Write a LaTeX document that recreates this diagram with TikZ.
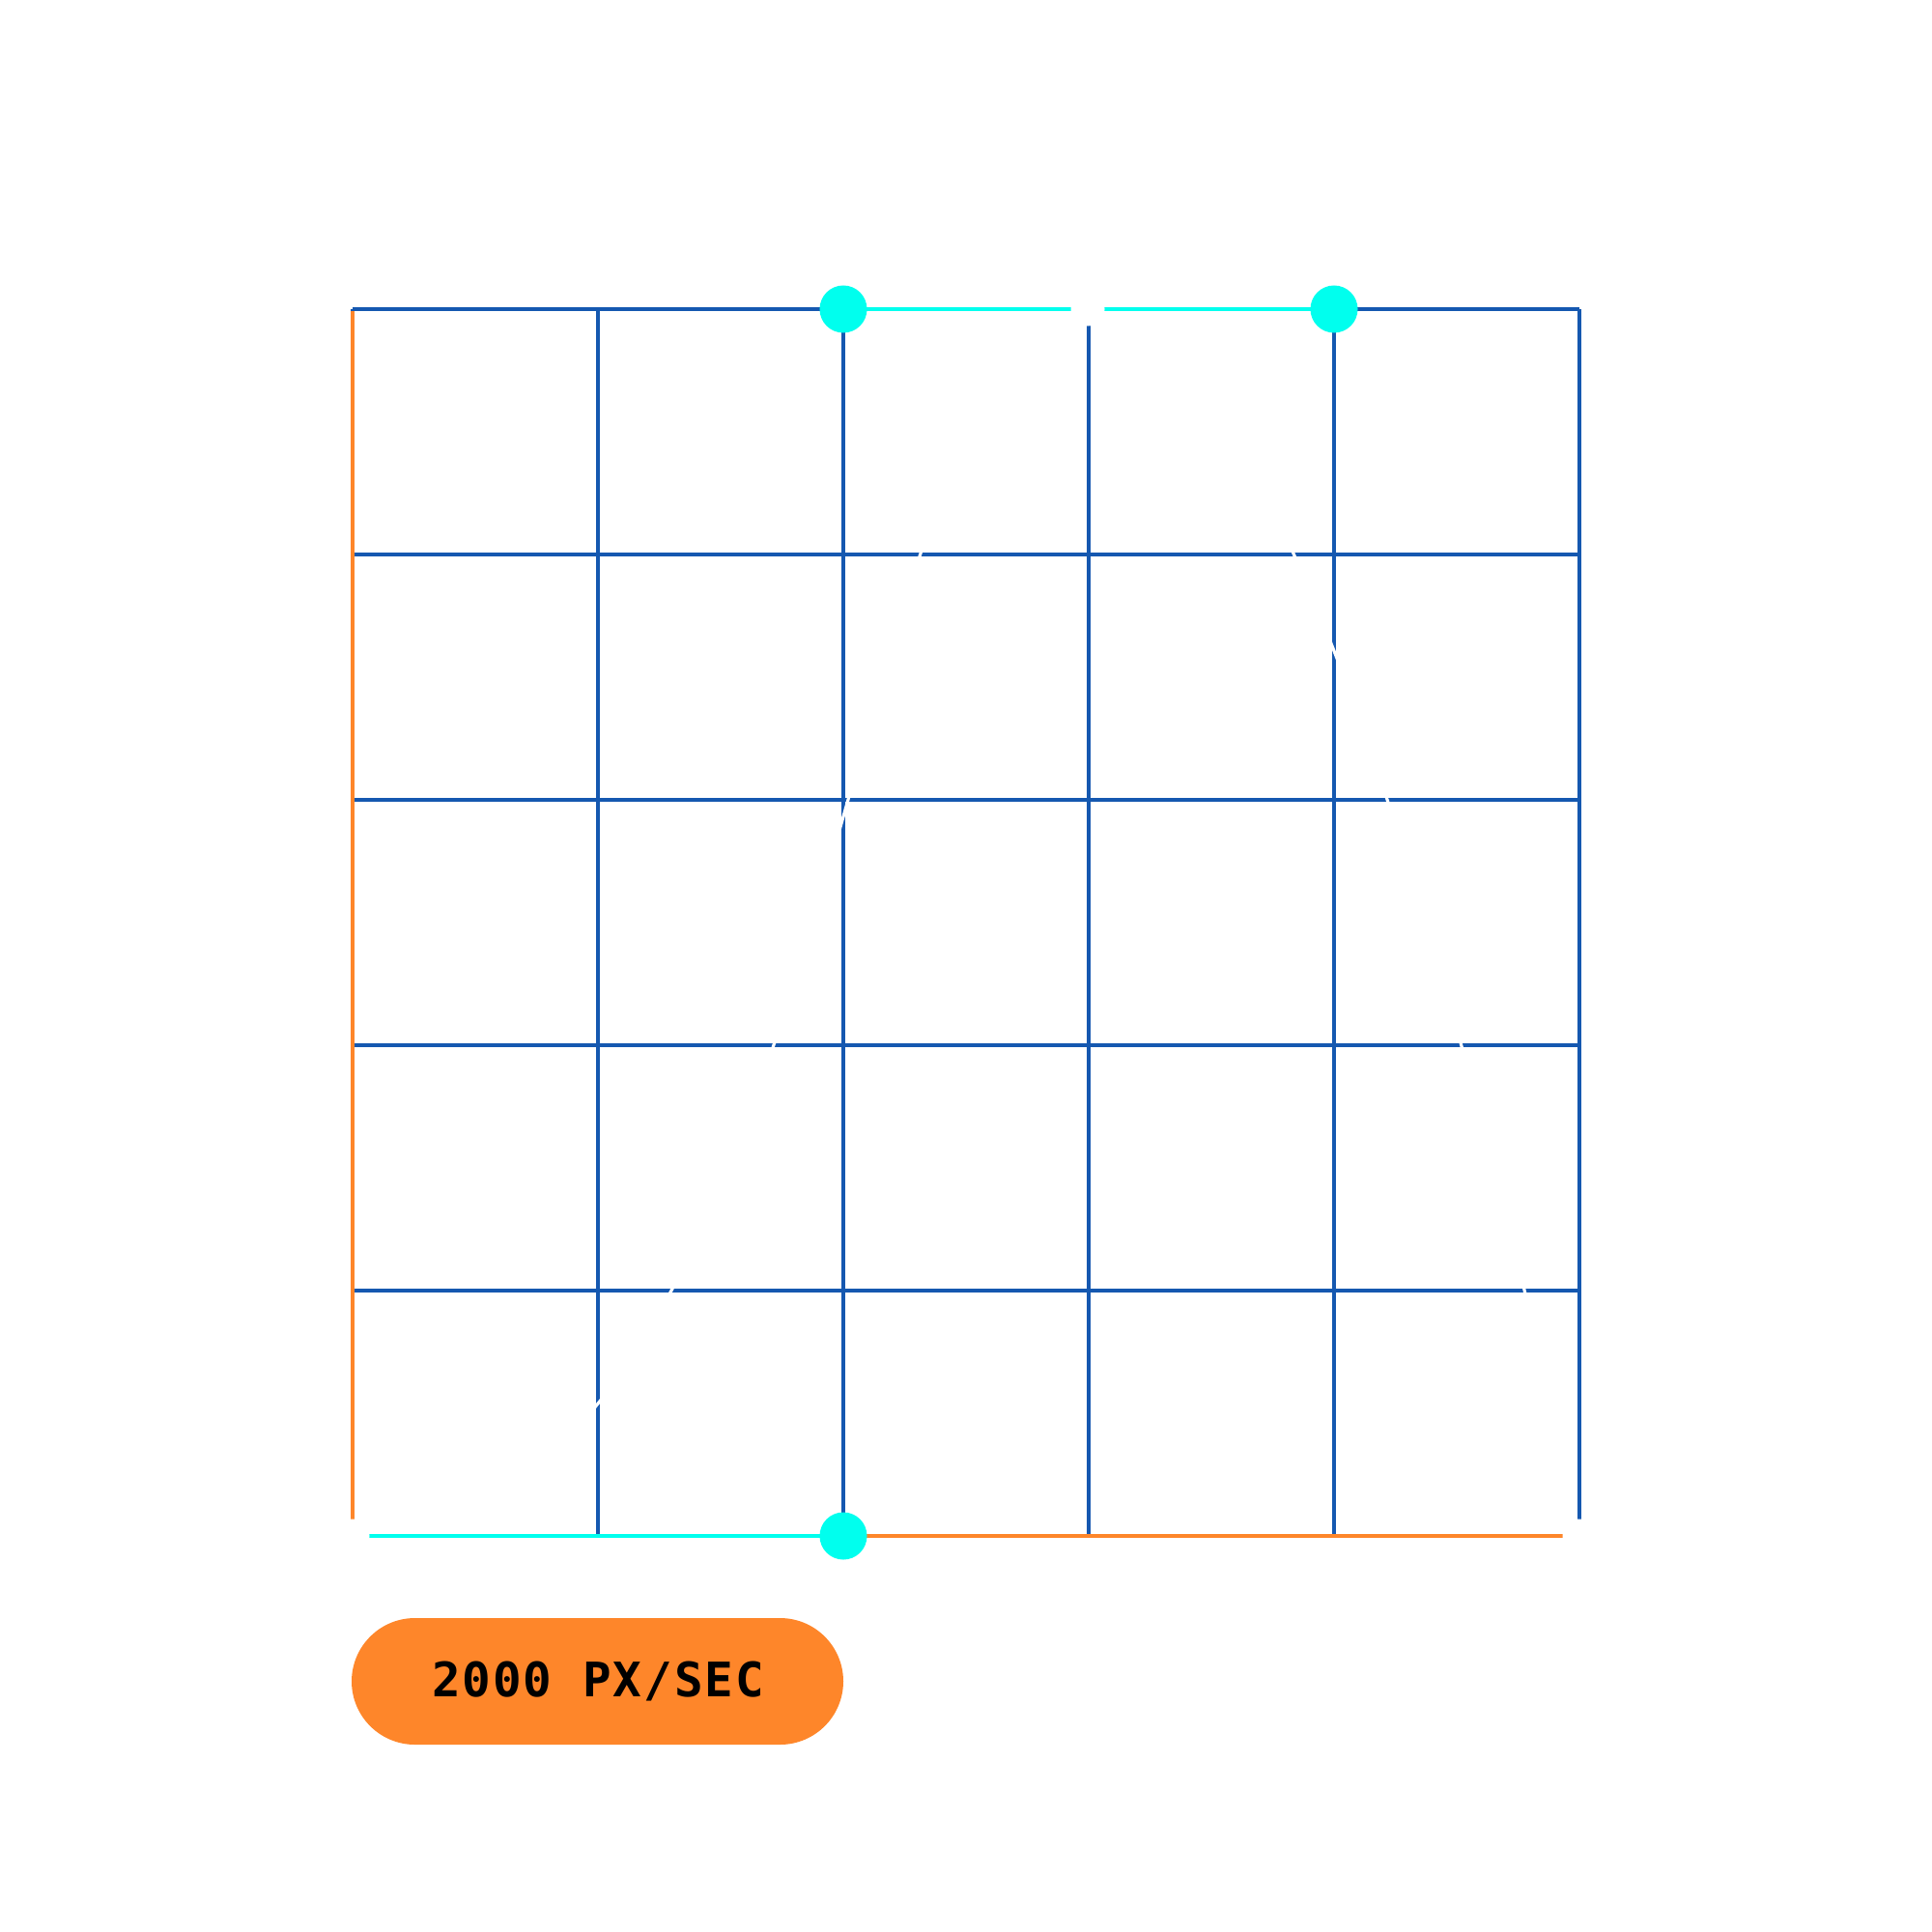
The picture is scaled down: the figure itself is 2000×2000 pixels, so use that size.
\documentclass[tikz,border=0pt]{standalone}
\usepackage{fontspec}
\newfontfamily\labelfont[LetterSpace=4]{DejaVu Sans Mono}
\definecolor{gridblue}{RGB}{21,88,176}
\definecolor{handlecyan}{RGB}{0,255,238}
\definecolor{pathorange}{RGB}{254,134,42}
\tikzset{
  gridline/.style={draw=gridblue, line width=1.3pt},
  orangeline/.style={draw=pathorange, line width=1.35pt},
  handleline/.style={draw=handlecyan, line width=1.35pt},
  curveline/.style={draw=white, line width=0.9pt},
  anchordot/.style={circle, fill=white, minimum size=0.35cm, inner sep=0pt},
  handledot/.style={circle, fill=handlecyan, minimum size=0.49cm, inner sep=0pt},
}
\begin{document}
\begin{tikzpicture}[x=0.01cm,y=-0.01cm]
\useasboundingbox (0,0) rectangle (2000,2000);
% grid
\foreach \i in {0,...,5}{
  \draw[gridline] (365+254*\i,320) -- (365+254*\i,1590);
  \draw[gridline] (365,320+254*\i) -- (1635,320+254*\i);
}
% named points
\coordinate (A0) at (365,1590);
\coordinate (A1) at (1126,320);
\coordinate (A2) at (1635,1590);
\coordinate (C1) at (873,1590);
\coordinate (C2) at (873,320);
\coordinate (C3) at (1381,320);
\coordinate (TL) at (365,322);
% white bezier path
\draw[curveline] (A0) .. controls (C1) and (C2) .. (A1) .. controls (C3) and (A2) .. (A2);
% orange lines
\draw[orangeline] (TL) -- (A0);
\draw[orangeline] (A0) -- (A2);
% cyan handles
\draw[handleline] (A0) -- (C1);
\draw[handleline] (C2) -- (C3);
% anchors (white)
\node[anchordot] (a0) at (A0) {};
\node[anchordot] (a1) at (A1) {};
\node[anchordot] (a2) at (A2) {};
% handle dots
\node[handledot] (h1) at (C1) {};
\node[handledot] (h2) at (C2) {};
\node[handledot] (h3) at (C3) {};
% label pill
\fill[pathorange, rounded corners=0.655cm] (364,1675) rectangle (873,1806);
\node[inner sep=0pt, text=black] (lbl) at (619,1740) {\labelfont\bfseries\fontsize{14}{14}\selectfont 2000 PX/SEC};
\end{tikzpicture}
\end{document}
